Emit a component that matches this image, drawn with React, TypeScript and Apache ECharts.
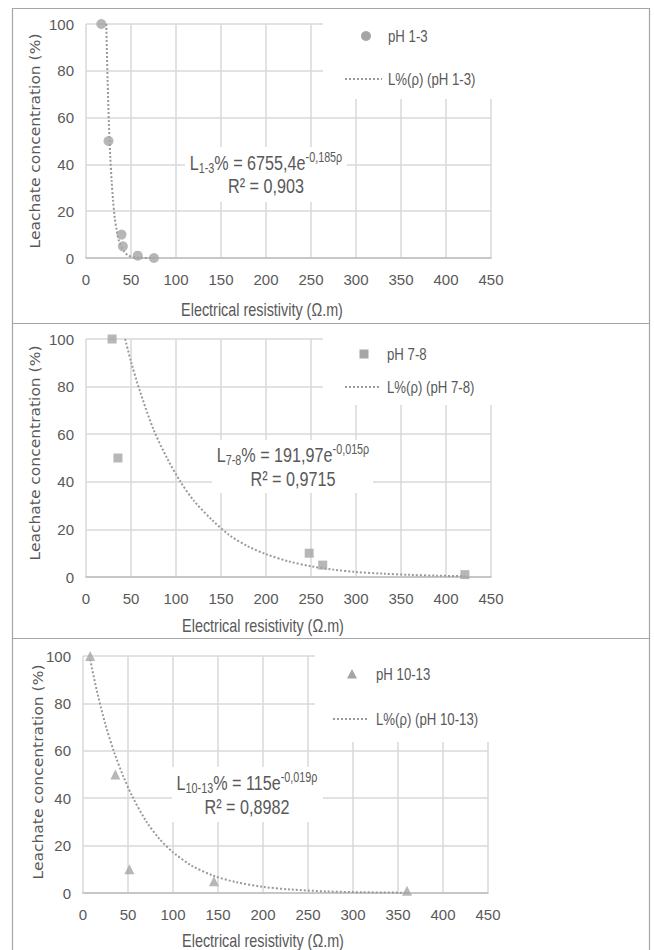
import React, { useEffect, useRef } from "react";
import * as echarts from "echarts";

// ---------- data ----------
const xTicks = [0, 50, 100, 150, 200, 250, 300, 350, 400, 450];
const yTicks = [0, 20, 40, 60, 80, 100];

const ph13Resistivity = [17, 25, 39.5, 41, 57.5, 75.5];
const ph13Leachate = [100, 50, 10, 5, 1, 0];
const ph13TrendRho = [22.5, 24, 25.5, 27, 28.5, 30, 32, 34, 36, 39, 42, 46, 50, 60, 75.5];
const ph13TrendL = [100, 76, 57, 43, 33, 25, 17, 12, 8, 5, 3, 1.3, 0.6, 0.1, 0];

const ph78Resistivity = [29, 35.5, 248, 263, 421];
const ph78Leachate = [100, 50, 10, 5, 1];
const ph78TrendRho = [43.5, 50, 60, 75, 90, 105, 120, 140, 160, 180, 200, 225, 250, 275, 300, 330, 360, 390, 421];
const ph78TrendL = [100, 90.5, 78, 62, 50, 40, 32, 24, 17.4, 12.9, 9.6, 6.6, 4.5, 3.1, 2.1, 1.4, 0.9, 0.55, 0.35];

const ph1013Resistivity = [8, 36, 51.5, 145.5, 360];
const ph1013Leachate = [100, 50, 10, 5, 1];
const ph1013TrendRho = [8, 15, 25, 35, 45, 55, 70, 85, 100, 120, 145, 170, 200, 230, 270, 310, 360];
const ph1013TrendL = [98.5, 86, 71, 59, 49, 40.6, 30.4, 22.8, 17.2, 11.7, 7.3, 4.6, 2.6, 1.5, 0.68, 0.32, 0.12];

const seriesNames = ["pH 1-3", "pH 7-8", "pH 10-13"];
const trendNames = ["L%(ρ) (pH 1-3)", "L%(ρ) (pH 7-8)", "L%(ρ) (pH 10-13)"];
const eqSub = ["1-3", "7-8", "10-13"];
const eqMain = ["% = 6755,4e", "% = 191,97e", "% = 115e"];
const eqSup = ["-0,185ρ", "-0,015ρ", "-0,019ρ"];
const r2Labels = ["R² = 0,903", "R² = 0,9715", "R² = 0,8982"];
const xTitle = "Electrical resistivity (Ω.m)";
const yTitle = "Leachate concentration (%)";

// ---------- styles / layout ----------
const FONT = '"Liberation Sans", Arial, sans-serif';
const NARROW = 0.8;
const EQ_NARROW = 0.77;
const TXT = "#595959";
const MARK = "#a5a5a5";
const GRID = "#d9d9d9";

const panels = [
  {
    grid: { left: 86, top: 24, width: 405, height: 234 },
    frame: { y: 8, h: 315 },
    legendBox: { x: 323, y: 20, w: 175, h: 79 },
    legendMarker: { x: 366, y: 36 },
    legendText1: { x: 388, y: 36 },
    legendLine: { x1: 345, x2: 382, y: 79 },
    legendText2: { x: 388, y: 79 },
    eqBox: { x: 185, y: 147, w: 162, h: 55 },
    eq1: { x: 266, y: 163 },
    eq2: { x: 266, y: 186 },
    yTitle: { x: 35, y: 141 },
    xTitle: { x: 262, y: 309 },
    symbol: "circle",
    symbolSize: 10,
  },
  {
    grid: { left: 86, top: 339, width: 405, height: 238 },
    frame: { y: 323, h: 315 },
    legendBox: { x: 323, y: 335, w: 175, h: 70 },
    legendMarker: { x: 364, y: 354 },
    legendText1: { x: 387, y: 354 },
    legendLine: { x1: 345, x2: 380, y: 387 },
    legendText2: { x: 387, y: 387 },
    eqBox: { x: 212, y: 440, w: 161, h: 53 },
    eq1: { x: 293, y: 455 },
    eq2: { x: 293, y: 479 },
    yTitle: { x: 35, y: 453 },
    xTitle: { x: 263, y: 625 },
    symbol: "rect",
    symbolSize: 9,
  },
  {
    grid: { left: 83, top: 656, width: 405, height: 237 },
    frame: { y: 638, h: 320 },
    legendBox: { x: 315, y: 652, w: 180, h: 90 },
    legendMarker: { x: 352, y: 674 },
    legendText1: { x: 376, y: 674 },
    legendLine: { x1: 333, x2: 368, y: 719 },
    legendText2: { x: 376, y: 719 },
    eqBox: { x: 172, y: 767, w: 151, h: 55 },
    eq1: { x: 247, y: 783 },
    eq2: { x: 247, y: 807 },
    yTitle: { x: 38, y: 772 },
    xTitle: { x: 263, y: 940 },
    symbol: "triangle",
    symbolSize: 10,
  },
];

const pointsX = [ph13Resistivity, ph78Resistivity, ph1013Resistivity];
const pointsY = [ph13Leachate, ph78Leachate, ph1013Leachate];
const trendX = [ph13TrendRho, ph78TrendRho, ph1013TrendRho];
const trendY = [ph13TrendL, ph78TrendL, ph1013TrendL];

const zip = (a: number[], b: number[]) => a.map((v, i) => [v, b[i]]);

function buildOption() {
  const grids: any[] = [];
  const xAxes: any[] = [];
  const yAxes: any[] = [];
  const series: any[] = [];
  const graphics: any[] = [];

  panels.forEach((p, i) => {
    grids.push({ ...p.grid, containLabel: false });
    xAxes.push({
      type: "value",
      gridIndex: i,
      min: xTicks[0],
      max: xTicks[xTicks.length - 1],
      interval: xTicks[1] - xTicks[0],
      axisLine: { show: true, lineStyle: { color: "#bfbfbf", width: 1.5 } },
      axisTick: { show: false },
      axisLabel: { color: TXT, fontSize: 15, fontFamily: FONT, margin: 14 },
      splitLine: { show: true, lineStyle: { color: GRID, width: 1.5 } },
    });
    yAxes.push({
      type: "value",
      gridIndex: i,
      min: yTicks[0],
      max: yTicks[yTicks.length - 1],
      interval: yTicks[1] - yTicks[0],
      axisLine: { show: false },
      axisTick: { show: false },
      axisLabel: { color: TXT, fontSize: 15, fontFamily: FONT, margin: 12 },
      splitLine: { show: true, lineStyle: { color: GRID, width: 1.5 } },
    });
    series.push({
      type: "line",
      name: trendNames[i],
      xAxisIndex: i,
      yAxisIndex: i,
      data: zip(trendX[i], trendY[i]),
      smooth: 0.3,
      showSymbol: false,
      symbol: "none",
      lineStyle: { color: "#9a9a9a", width: 2, type: [2, 2] },
      z: 2,
    });
    series.push({
      type: "scatter",
      name: seriesNames[i],
      xAxisIndex: i,
      yAxisIndex: i,
      data: zip(pointsX[i], pointsY[i]),
      symbol: p.symbol,
      symbolSize: p.symbolSize,
      itemStyle: { color: MARK },
      z: 3,
    });

    // panel frame
    graphics.push({
      type: "rect",
      shape: { x: 12.5, y: p.frame.y + 0.5, width: 637, height: p.frame.h },
      style: { fill: "none", stroke: "#a6a6a6", lineWidth: 1.2 },
      z: 20,
      silent: true,
    });
    // legend background
    graphics.push({
      type: "rect",
      shape: { x: p.legendBox.x, y: p.legendBox.y, width: p.legendBox.w, height: p.legendBox.h },
      style: { fill: "#ffffff" },
      z: 10,
      silent: true,
    });
    // legend marker
    const m = p.legendMarker;
    if (p.symbol === "circle") {
      graphics.push({ type: "circle", shape: { cx: m.x, cy: m.y, r: 5 }, style: { fill: MARK }, z: 11 });
    } else if (p.symbol === "rect") {
      graphics.push({ type: "rect", shape: { x: m.x - 4.5, y: m.y - 4.5, width: 9, height: 9 }, style: { fill: MARK }, z: 11 });
    } else {
      graphics.push({
        type: "polygon",
        shape: { points: [[m.x, m.y - 5], [m.x + 5, m.y + 4.5], [m.x - 5, m.y + 4.5]] },
        style: { fill: MARK },
        z: 11,
      });
    }
    graphics.push({
      type: "text",
      x: p.legendText1.x,
      y: p.legendText1.y,
      scaleX: NARROW,
      style: { text: seriesNames[i], fill: TXT, font: `16.5px ${FONT}`, textAlign: "left", textVerticalAlign: "middle" },
      z: 11,
    });
    graphics.push({
      type: "line",
      shape: { x1: p.legendLine.x1, y1: p.legendLine.y, x2: p.legendLine.x2, y2: p.legendLine.y },
      style: { stroke: "#9a9a9a", lineWidth: 2, lineDash: [2, 2] },
      z: 11,
    });
    graphics.push({
      type: "text",
      x: p.legendText2.x,
      y: p.legendText2.y,
      scaleX: NARROW,
      style: { text: trendNames[i], fill: TXT, font: `16.5px ${FONT}`, textAlign: "left", textVerticalAlign: "middle" },
      z: 11,
    });
    // equation box
    graphics.push({
      type: "rect",
      shape: { x: p.eqBox.x, y: p.eqBox.y, width: p.eqBox.w, height: p.eqBox.h },
      style: { fill: "#ffffff" },
      z: 10,
      silent: true,
    });
    graphics.push({
      type: "text",
      x: p.eq1.x,
      y: p.eq1.y,
      scaleX: EQ_NARROW,
      style: {
        text: `{n|L}{sub|${eqSub[i]}}{n|${eqMain[i]}}{sup|${eqSup[i]}}`,
        textAlign: "center",
        textVerticalAlign: "middle",
        rich: {
          n: { fontSize: 21, fontFamily: FONT, fill: TXT, color: TXT, lineHeight: 25 },
          sub: { fontSize: 14, fontFamily: FONT, fill: TXT, color: TXT, lineHeight: 14, verticalAlign: "bottom" },
          sup: { fontSize: 14, fontFamily: FONT, fill: TXT, color: TXT, lineHeight: 14, verticalAlign: "top" },
        },
      },
      z: 11,
    });
    graphics.push({
      type: "text",
      x: p.eq2.x,
      y: p.eq2.y,
      scaleX: EQ_NARROW,
      style: { text: r2Labels[i], fill: TXT, font: `21px ${FONT}`, textAlign: "center", textVerticalAlign: "middle" },
      z: 11,
    });
    // axis titles
    graphics.push({
      type: "text",
      x: p.yTitle.x,
      y: p.yTitle.y,
      rotation: Math.PI / 2,
      scaleX: 1.07,
      style: { text: yTitle, fill: TXT, font: `14.5px "DejaVu Sans", sans-serif`, textAlign: "center", textVerticalAlign: "middle" },
      z: 11,
    });
    graphics.push({
      type: "text",
      x: p.xTitle.x,
      y: p.xTitle.y,
      scaleX: NARROW,
      style: { text: xTitle, fill: TXT, font: `18px ${FONT}`, textAlign: "center", textVerticalAlign: "middle" },
      z: 11,
    });
  });

  return {
    animation: false,
    backgroundColor: "#ffffff",
    grid: grids,
    xAxis: xAxes,
    yAxis: yAxes,
    series,
    graphic: { elements: graphics },
  };
}

export default function App() {
  const ref = useRef<HTMLDivElement>(null);
  useEffect(() => {
    document.body.style.margin = "0";
    if (!ref.current) return;
    const chart = echarts.init(ref.current, undefined, { renderer: "svg" });
    chart.setOption(buildOption() as any);
    return () => chart.dispose();
  }, []);
  return <div ref={ref} style={{ width: 654, height: 950, background: "#fff" }} />;
}
